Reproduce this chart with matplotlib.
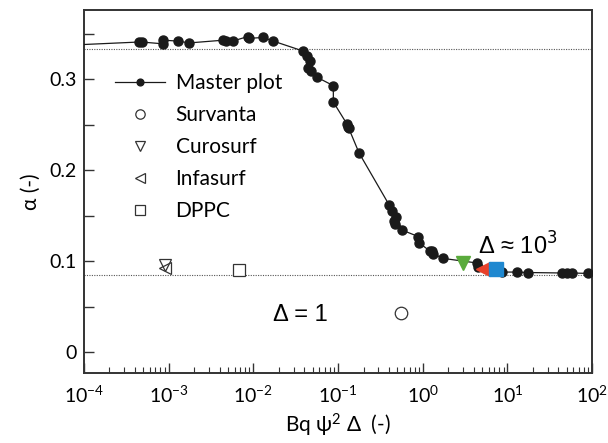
import matplotlib
matplotlib.use("Agg")
import matplotlib.pyplot as plt
from matplotlib.ticker import FixedLocator, LogLocator, NullFormatter

# Master plot data (x = Bq psi^2 Delta, y = alpha)
master_x = [5e-5, 4.5e-4, 4.8e-4, 8.6e-4, 8.7e-4, 1.3e-3, 1.75e-3, 4.4e-3, 4.8e-3, 5.7e-3,
            8.6e-3, 8.8e-3, 0.0131, 0.0172, 0.0389, 0.0427, 0.0446, 0.0467, 0.048, 0.057,
            0.088, 0.088, 0.127, 0.131, 0.134, 0.177, 0.40, 0.437, 0.454, 0.47, 0.48,
            0.575, 0.89, 0.91, 1.22, 1.28, 1.33, 1.75, 4.35, 4.5, 8.57, 12.9, 17.7,
            43.8, 50.3, 57.5, 90.0]
master_y = [0.337, 0.341, 0.341, 0.339, 0.343, 0.342, 0.340, 0.343, 0.342, 0.342,
            0.347, 0.345, 0.346, 0.342, 0.331, 0.326, 0.312, 0.320, 0.309, 0.302,
            0.293, 0.275, 0.251, 0.248, 0.246, 0.219, 0.162, 0.155, 0.144, 0.141, 0.149,
            0.134, 0.127, 0.120, 0.111, 0.111, 0.108, 0.103, 0.098, 0.094, 0.088, 0.088, 0.0875,
            0.087, 0.087, 0.087, 0.0865]

# Open markers (Delta = 1)
survanta_x, survanta_y = [0.55], [0.0425]
curosurf_x, curosurf_y = [9.1e-4], [0.0956]
infasurf_x, infasurf_y = [9.0e-4], [0.092]
dppc_x, dppc_y = [6.8e-3], [0.090]

# Filled colored markers (Delta ~ 10^3)
curosurf3_x, curosurf3_y = [2.97], [0.0975]
infasurf3_x, infasurf3_y = [5.2], [0.091]
dppc3_x, dppc3_y = [7.35], [0.091]

upper_limit = 1.0 / 3.0
lower_limit = 0.085

xticks = [1e-4, 1e-3, 1e-2, 1e-1, 1e0, 1e1, 1e2]
xticklabels = [r"10$^{-4}$", r"10$^{-3}$", r"10$^{-2}$", r"10$^{-1}$", r"10$^{0}$", r"10$^{1}$", r"10$^{2}$"]
yticks = [0, 0.1, 0.2, 0.3]
yticklabels = ["0", "0.1", "0.2", "0.3"]
yminor = [0.05, 0.15, 0.25, 0.35]

plt.rcParams['font.family'] = ['Lato', 'DejaVu Sans']
plt.rcParams['mathtext.fontset'] = 'custom'
plt.rcParams['mathtext.rm'] = 'Lato'
plt.rcParams['mathtext.it'] = 'Lato'

fig = plt.figure(figsize=(6.08, 4.43), dpi=100)
ax = fig.add_axes([0.138, 0.158, 0.836, 0.819])

ax.set_xscale('log')
ax.set_xlim(1e-4, 1e2)
ax.set_ylim(-0.023, 0.376)

ax.axhline(upper_limit, color='#555555', lw=0.8, ls=(0, (1, 1.2)), zorder=1)
ax.axhline(lower_limit, color='#555555', lw=0.8, ls=(0, (1, 1.2)), zorder=1)

ax.plot(master_x, master_y, '-o', color='#1a1a1a', lw=0.9, ms=6.5, label='Master plot', zorder=3)
ax.plot(survanta_x, survanta_y, 'o', mfc='white', mec='#333333', mew=0.9, ms=9, ls='none', label='Survanta', zorder=3)
ax.plot(curosurf_x, curosurf_y, 'v', mfc='none', mec='#333333', mew=0.9, ms=9, ls='none', label='Curosurf', zorder=3)
ax.plot(infasurf_x, infasurf_y, '<', mfc='none', mec='#333333', mew=0.9, ms=9, ls='none', label='Infasurf', zorder=3)
ax.plot(dppc_x, dppc_y, 's', mfc='white', mec='#333333', mew=0.9, ms=9, ls='none', label='DPPC', zorder=3)

ax.plot(curosurf3_x, curosurf3_y, 'v', color='#5aab3c', ms=10, ls='none', zorder=4)
ax.plot(infasurf3_x, infasurf3_y, '<', color='#e8412a', ms=10, ls='none', zorder=4)
ax.plot(dppc3_x, dppc3_y, 's', color='#1f88d0', ms=9.5, ls='none', zorder=4)

ax.text(0.0356, 0.041, "Δ = 1", fontsize=17, family=['Liberation Sans', 'DejaVu Sans'],
        ha='center', va='center')
ax.text(13.4, 0.117, "Δ ≈ 10$^{3}$", fontsize=17, family=['Liberation Sans', 'DejaVu Sans'],
        ha='center', va='center', math_fontfamily='dejavusans')

ax.xaxis.set_major_locator(FixedLocator(xticks))
ax.set_xticklabels(xticklabels)
ax.xaxis.set_minor_locator(LogLocator(base=10, subs=range(2, 10), numticks=20))
ax.xaxis.set_minor_formatter(NullFormatter())
ax.set_yticks(yticks)
ax.set_yticklabels(yticklabels)
ax.yaxis.set_minor_locator(FixedLocator(yminor))

ax.tick_params(axis='both', which='major', direction='in', length=7, width=1, labelsize=14, pad=8, color='#333333')
ax.tick_params(axis='both', which='minor', direction='in', length=4, width=0.8, color='#333333')
ax.tick_params(axis='y', which='minor', length=7, width=1)
ax.tick_params(axis='y', which='major', pad=5)

for sp in ax.spines.values():
    sp.set_linewidth(1.4)
    sp.set_color('#333333')

ax.set_xlabel("Bq ψ$^{2}$ Δ  (-)", fontsize=15, labelpad=5)
ax.set_ylabel("α (-)", fontsize=15, labelpad=6)

leg = ax.legend(loc='upper left', bbox_to_anchor=(0.045, 0.85), frameon=False, fontsize=15,
                handlelength=2.4, handletextpad=0.5, labelspacing=0.58, borderaxespad=0,
                markerscale=0.75)

fig.savefig('out.png', dpi=100)
